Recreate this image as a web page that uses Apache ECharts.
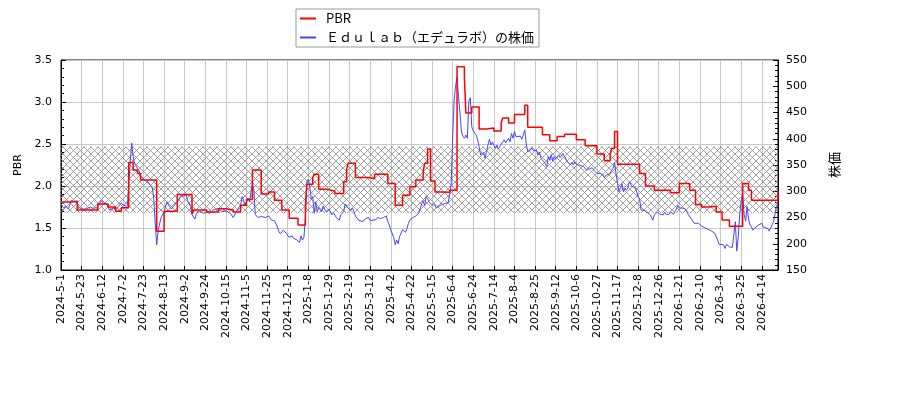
<!DOCTYPE html>
<html><head><meta charset="utf-8">
<script src="https://cdn.jsdelivr.net/npm/echarts@6/dist/echarts.min.js"></script>
<style>html,body{margin:0;padding:0;background:#fff}#c{width:900px;height:400px}</style>
</head><body><div id="c"></div>
<script>
// ---- data ----
const firstDay = '2024-05-01';
const lastDay = '2026-04-30';
// Tokyo Stock Exchange closed days (weekdays)
const holidays = ['2024-05-03','2024-05-06','2024-07-15','2024-08-12','2024-09-16','2024-09-23','2024-10-14','2024-11-04','2024-12-31',
 '2025-01-01','2025-01-02','2025-01-03','2025-01-13','2025-02-11','2025-02-24','2025-03-20','2025-04-29','2025-05-05','2025-05-06',
 '2025-07-21','2025-08-11','2025-09-15','2025-09-23','2025-10-13','2025-11-03','2025-11-24','2025-12-31',
 '2026-01-01','2026-01-02','2026-01-12','2026-02-11','2026-02-23','2026-03-20','2026-04-29'];
const labelEvery = 14; // trading days between tick labels

// [trading-day number since 2024-05-01, PBR] (PBR changes stepwise)
const pbrPoints = [[0,1.81],[7,1.82],[11,1.714],[25,1.786],[32,1.75],[37,1.70],[41,1.74],[46,2.28],[49,2.19],[52,2.15],[54,2.07],
 [65,1.46],[70,1.70],[79,1.90],[89,1.667],[90,1.714],[99,1.69],[107,1.73],[112,1.714],[117,1.69],[122,1.77],[126,1.84],[130,2.19],
 [136,1.905],[141,1.93],[145,1.83],[150,1.714],[155,1.615],[161,1.536],[166,1.77],[167,2.02],[171,2.10],[172,2.14],[175,1.96],
 [181,1.94],[186,1.91],[192,2.05],[194,2.20],[195,2.27],[200,2.10],[208,2.09],[213,2.14],[222,2.03],[227,1.77],[232,1.89],
 [237,1.99],[241,2.07],[246,2.17],[247,2.27],[249,2.44],[251,2.06],[254,1.93],[258,1.925],[264,1.95],[269,3.42],[274,3.28],
 [275,2.87],[279,2.94],[284,2.68],[289,2.69],[294,2.655],[299,2.75],[300,2.81],[304,2.75],[308,2.85],[315,2.96],[317,2.70],
 [327,2.61],[332,2.54],[337,2.59],[342,2.615],[350,2.55],[356,2.48],[364,2.38],[369,2.30],[373,2.37],[374,2.45],[376,2.65],
 [378,2.26],[393,2.15],[397,2.00],[403,1.95],[414,1.92],[420,2.03],[427,1.95],[431,1.78],[435,1.75],[440,1.76],[445,1.69],
 [449,1.595],[454,1.52],[463,2.03],[467,1.95],[469,1.83],[487,1.95]];

// [trading-day number, share price (yen)]
const pricePoints = [[0,276],[2,267],[3,272],[5,266],[7,283],[9,280],[11,278],[12,269],[15,266],[17,266],[20,270],[22,267],[24,269],
 [26,274],[27,283],[29,277],[31,276],[33,264],[36,269],[37,264],[39,271],[41,278],[42,274],[45,271],[46,314],[47,356],[48,392],
 [49,366],[50,353],[51,356],[53,339],[54,328],[56,323],[59,318],[60,321],[62,306],[63,287],[64,239],[65,198],[66,226],[67,229],
 [68,250],[70,261],[72,280],[73,274],[75,266],[76,269],[78,277],[80,282],[81,290],[83,291],[85,293],[86,282],[88,271],[89,255],
 [91,247],[92,258],[94,262],[97,258],[99,260],[101,258],[103,264],[106,267],[108,264],[110,261],[112,263],[115,258],[117,250],
 [119,261],[120,264],[122,274],[123,290],[124,283],[125,272],[126,280],[127,287],[128,280],[130,315],[131,302],[132,255],[134,250],
 [136,252],[139,250],[141,253],[143,245],[145,244],[147,232],[148,223],[149,219],[151,226],[152,227],[153,220],[155,212],[157,215],
 [158,210],[160,208],[162,202],[163,215],[164,207],[165,212],[166,250],[167,318],[168,323],[169,308],[170,285],[171,290],[172,258],
 [173,280],[174,261],[175,269],[177,261],[178,272],[180,261],[182,266],[184,255],[185,259],[187,250],[189,245],[190,255],[192,261],
 [193,276],[195,268],[197,264],[198,268],[200,253],[202,245],[203,248],[205,242],[207,248],[209,250],[210,244],[212,245],[214,246],
 [215,250],[217,248],[219,250],[221,253],[222,242],[223,236],[224,226],[226,212],[227,198],[228,207],[229,200],[230,214],[231,220],
 [232,227],[234,222],[235,229],[236,239],[237,245],[238,244],[239,250],[241,253],[243,258],[245,276],[246,282],[247,272],[248,290],
 [249,286],[250,280],[252,274],[254,274],[255,268],[256,271],[258,274],[261,277],[263,278],[264,280],[265,312],[266,400],[267,474],
 [268,500],[269,518],[270,480],[271,449],[272,413],[273,405],[274,401],[275,407],[276,401],[277,471],[278,478],[279,423],[280,415],
 [282,407],[283,398],[284,385],[285,369],[287,374],[288,363],[289,375],[290,388],[291,399],[292,388],[293,394],[295,382],[296,388],
 [297,380],[298,385],[299,382],[300,394],[301,398],[302,392],[304,401],[305,394],[306,410],[307,401],[308,414],[309,404],[310,401],
 [312,405],[313,399],[314,407],[315,417],[316,391],[317,375],[318,377],[320,382],[321,377],[322,380],[323,378],[324,369],[325,375],
 [326,363],[327,366],[328,356],[330,347],[331,366],[332,359],[333,370],[334,358],[335,366],[336,361],[338,369],[339,364],[340,366],
 [341,372],[342,366],[343,361],[344,356],[346,350],[347,355],[348,350],[349,356],[350,351],[351,353],[352,350],[355,347],[356,344],
 [357,340],[358,337],[359,344],[360,347],[361,344],[362,340],[364,334],[365,337],[366,334],[367,337],[368,332],[369,326],[370,330],
 [371,332],[373,334],[374,340],[375,344],[376,355],[377,333],[378,315],[379,299],[380,307],[381,315],[382,299],[383,306],[384,302],
 [385,306],[386,318],[387,321],[388,309],[389,306],[390,306],[391,299],[392,290],[393,286],[394,264],[395,261],[396,264],[398,260],
 [399,258],[400,256],[401,256],[402,245],[403,255],[404,252],[405,260],[407,256],[408,258],[409,255],[410,260],[411,256],[412,258],
 [413,256],[414,261],[416,256],[417,261],[418,266],[419,273],[420,268],[421,269],[422,268],[424,266],[425,261],[426,256],[427,255],
 [428,248],[429,247],[430,239],[431,236],[433,239],[434,236],[435,234],[436,232],[437,231],[438,229],[439,228],[440,226],[442,224],
 [443,222],[444,220],[445,217],[446,207],[447,199],[448,201],[450,198],[451,191],[452,199],[453,198],[454,194],[455,194],[456,193],
 [457,194],[458,242],[459,186],[460,213],[461,255],[462,283],[463,293],[464,256],[465,243],[466,271],[467,247],[468,236],[469,232],
 [470,226],[471,224],[472,232],[473,229],[474,236],[475,237],[476,239],[477,232],[478,229],[480,229],[481,224],[482,230],[483,229],
 [484,242],[485,258],[486,271],[487,280]];

const pbrBand = [1.68, 2.47];
const pbrAxis = {min: 1.0, max: 3.5, step: 0.5};
const priceAxis = {min: 150, max: 550, step: 50};
const seriesNames = ['PBR', 'Ｅｄｕｌａｂ（エデュラボ）の株価'];
const axisNames = ['PBR', '株価'];

// ---- build trading-day categories ----
function buildCategories() {
  const hs = new Set(holidays);
  const out = [];
  const p = s => s.split('-').map(Number);
  const [y0, m0, d0] = p(firstDay), [y1, m1, d1] = p(lastDay);
  let t = Date.UTC(y0, m0 - 1, d0);
  const end = Date.UTC(y1, m1 - 1, d1);
  while (t <= end) {
    const d = new Date(t);
    const wd = d.getUTCDay();
    const y = d.getUTCFullYear(), m = d.getUTCMonth() + 1, dd = d.getUTCDate();
    const iso = y + '-' + String(m).padStart(2, '0') + '-' + String(dd).padStart(2, '0');
    if (wd !== 0 && wd !== 6 && !hs.has(iso)) out.push(y + '-' + m + '-' + dd);
    t += 86400000;
  }
  return out;
}
const categories = buildCategories();
const toCat = pts => pts.map(([i, v]) => [categories[i], v]);

// hatch pattern
function hatch() {
  const s = 7, c = document.createElement('canvas');
  c.width = s; c.height = s;
  const g = c.getContext('2d');
  g.strokeStyle = '#8a8a8a'; g.lineWidth = 0.8;
  g.beginPath();
  g.moveTo(0, 0); g.lineTo(s, s);
  g.moveTo(s, 0); g.lineTo(0, s);
  g.stroke();
  return c;
}

const font = 'DejaVu Sans';
const chart = echarts.init(document.getElementById('c'), null, {renderer: 'canvas'});
chart.setOption({
  animation: false,
  backgroundColor: '#fff',
  grid: {left: 61, right: 122, top: 60, bottom: 130, show: true, borderColor: '#000', borderWidth: 1, backgroundColor: 'transparent'},
  legend: {
    orient: 'vertical', left: 296, top: 9, padding: [2, 5, 2, 4], itemGap: 4,
    itemWidth: 16, itemHeight: 2, icon: 'rect',
    backgroundColor: '#fff', borderColor: '#999', borderWidth: 1,
    textStyle: {fontFamily: 'Noto Sans CJK JP', fontSize: 13, color: '#000', lineHeight: 15, padding: [0, 0, 0, 5]},
    data: seriesNames
  },
  xAxis: {
    type: 'category', data: categories, boundaryGap: false,
    axisLine: {lineStyle: {color: '#000'}},
    axisTick: {inside: true, length: 4, interval: labelEvery - 1, lineStyle: {color: '#000'}},
    axisLabel: {interval: labelEvery - 1, rotate: 90, margin: 4, fontFamily: font, fontSize: 11, color: '#000'},
    splitLine: {show: true, interval: labelEvery - 1, lineStyle: {color: '#c8c8c8', width: 1}}
  },
  yAxis: [{
    type: 'value', min: pbrAxis.min, max: pbrAxis.max, interval: pbrAxis.step,
    name: axisNames[0], nameLocation: 'middle', nameRotate: 90, nameGap: 35,
    nameTextStyle: {fontFamily: font, fontSize: 11, color: '#000'},
    axisLine: {show: true, lineStyle: {color: '#000'}},
    axisTick: {show: true, inside: true, length: 5, lineStyle: {color: '#000'}},
    minorTick: {show: true, splitNumber: 5, length: 3, lineStyle: {color: '#000'}},
    axisLabel: {margin: 9, fontFamily: font, fontSize: 11, color: '#000', formatter: v => v.toFixed(1)},
    splitLine: {show: true, lineStyle: {color: '#c8c8c8', width: 1}}
  }, {
    type: 'value', position: 'right', min: priceAxis.min, max: priceAxis.max, interval: priceAxis.step,
    name: axisNames[1], nameLocation: 'middle', nameRotate: 90, nameGap: 50,
    nameTextStyle: {fontFamily: 'Noto Sans CJK JP', fontSize: 13, color: '#000'},
    axisLine: {show: true, lineStyle: {color: '#000'}},
    axisTick: {show: true, inside: true, length: 5, lineStyle: {color: '#000'}},
    minorTick: {show: true, splitNumber: 5, length: 3, lineStyle: {color: '#000'}},
    axisLabel: {margin: 8, fontFamily: font, fontSize: 11, color: '#000'},
    splitLine: {show: false}
  }],
  series: [{
    name: 'band', type: 'line', data: [], yAxisIndex: 0, z: 1, silent: true,
    markArea: {silent: true, itemStyle: {color: {image: hatch(), repeat: 'repeat'}, borderWidth: 0},
      data: [[{yAxis: pbrBand[0]}, {yAxis: pbrBand[1]}]]}
  }, {
    name: seriesNames[1], type: 'line', yAxisIndex: 1, data: toCat(pricePoints), z: 3,
    showSymbol: false, symbol: 'none', color: '#4646ff', lineStyle: {width: 1, color: '#4646ff'}
  }, {
    name: seriesNames[0], type: 'line', yAxisIndex: 0, data: toCat(pbrPoints), step: 'end', z: 4,
    showSymbol: false, symbol: 'none', color: '#ff0000', lineStyle: {width: 1.5, color: '#ff0000'}
  }]
});
</script></body></html>
